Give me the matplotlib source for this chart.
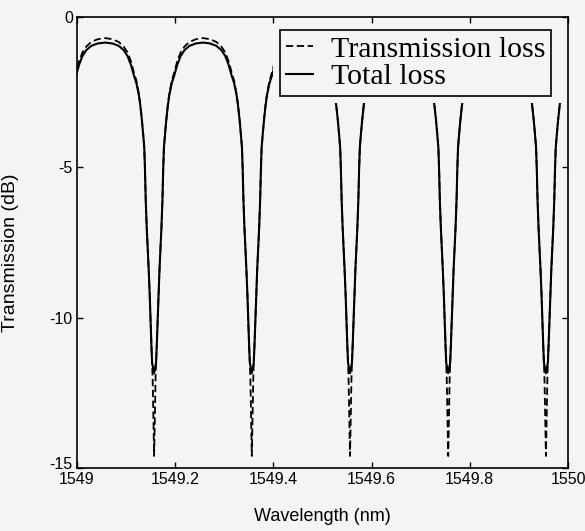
import matplotlib
matplotlib.use("Agg")
import matplotlib.pyplot as plt
import matplotlib.transforms as mtransforms
from matplotlib.patches import Rectangle
import numpy as np

plt.rcParams['axes.unicode_minus'] = False
plt.rcParams['font.family'] = ['Liberation Sans', 'DejaVu Sans']

# ---- data ----
# resonance (notch) centres in nm
notch_centers = [1548.957, 1549.157, 1549.356, 1549.556, 1549.756, 1549.955]

# one-sided notch profile: offset from centre (nm) and level (dB)
total_offset = [0.0, 0.004, 0.0055, 0.007, 0.009, 0.011, 0.013, 0.015, 0.017,
                0.0185, 0.020, 0.0225, 0.025, 0.028, 0.031, 0.036, 0.041,
                0.047, 0.054, 0.062, 0.072, 0.085, 0.0995]
total_db = [-11.85, -11.5, -10.9, -10.2, -9.2, -8.4, -7.7, -7.0, -6.1,
            -5.1, -4.35, -3.85, -3.4, -2.95, -2.6, -2.2, -1.95,
            -1.6, -1.3, -1.1, -0.96, -0.88, -0.85]

trans_offset = [0.0, 0.001, 0.002, 0.003, 0.004, 0.0055, 0.007, 0.009, 0.011,
                0.013, 0.015, 0.017, 0.0185, 0.020, 0.0225, 0.025, 0.028,
                0.031, 0.036, 0.041, 0.047, 0.054, 0.062, 0.072, 0.085, 0.0995]
trans_db = [-14.6, -13.8, -12.8, -12.0, -11.5, -10.9, -10.2, -9.2, -8.4,
            -7.7, -7.0, -6.1, -5.1, -4.35, -3.85, -3.4, -2.92,
            -2.55, -2.12, -1.85, -1.48, -1.18, -0.98, -0.83, -0.74, -0.70]

labels = ['Transmission loss', 'Total loss']
xticks = [1549, 1549.2, 1549.4, 1549.6, 1549.8, 1550]
xtick_labels = ['1549', '1549.2', '1549.4', '1549.6', '1549.8', '1550']
yticks = [0, -5, -10, -15]
ytick_labels = ['0', '-5', '-10', '-15']


def build(centers, offs, vals):
    offs = np.asarray(offs)
    vals = np.asarray(vals)
    xs, ys = [], []
    for c in centers:
        xs.append(c - offs[::-1]); ys.append(vals[::-1])
        xs.append(c + offs[1:]); ys.append(vals[1:])
    return np.concatenate(xs), np.concatenate(ys)


bg = '#f4f4f4'
fig = plt.figure(figsize=(5.85, 5.31), dpi=100, facecolor=bg)
ax = fig.add_axes([77/585, 1-468/531, 491/585, 451/531], facecolor=bg)

xt, yt = build(notch_centers, trans_offset, trans_db)
xs, ys = build(notch_centers, total_offset, total_db)
l1, = ax.plot(xt, yt, color='black', lw=1.3, linestyle=(0, (4, 2)), zorder=2)
l2, = ax.plot(xs, ys, color='black', lw=1.5, zorder=2.1)

# area hidden behind the legend in the original figure
ax.add_patch(Rectangle((1549.400, -2.86), 0.6, 2.86, facecolor=bg,
                       edgecolor='none', zorder=2.2))

ax.set_xlim(1549, 1550)
ax.set_ylim(-15, 0)
ax.set_axisbelow(False)
ax.set_xticks(xticks)
ax.set_xticklabels(xtick_labels)
ax.set_yticks(yticks)
ax.set_yticklabels(ytick_labels)
ax.tick_params(direction='in', length=4, width=1.0, top=True, right=True,
               labelsize=11.5, pad=3, colors='black')
for s in ax.spines.values():
    s.set_linewidth(1.2)
    s.set_color('black')

# lift the bottom y tick label a little so it clears "1549"
lab = ax.get_yticklabels()[-1]
lab.set_transform(lab.get_transform() +
                  mtransforms.ScaledTranslation(0, 5/100, fig.dpi_scale_trans))

ax.set_xlabel('Wavelength (nm)', fontsize=13, labelpad=15)
ax.set_ylabel('Transmission (dB)', fontsize=14)
ax.yaxis.set_label_coords(-0.118, 0.477)

leg = ax.legend([l1, l2], labels, loc='upper left',
                bbox_to_anchor=((280-77)/491, (468-30)/451),
                prop={'family': 'Liberation Serif', 'size': 21.5},
                frameon=True, fancybox=False, framealpha=1,
                edgecolor='black', facecolor=bg, handlelength=0.9,
                handletextpad=0.6, borderpad=0.2, labelspacing=0.02,
                borderaxespad=0)
leg.get_frame().set_linewidth(1.2)
leg.set_zorder(5)

fig.savefig('out.png', dpi=100, facecolor=bg)
